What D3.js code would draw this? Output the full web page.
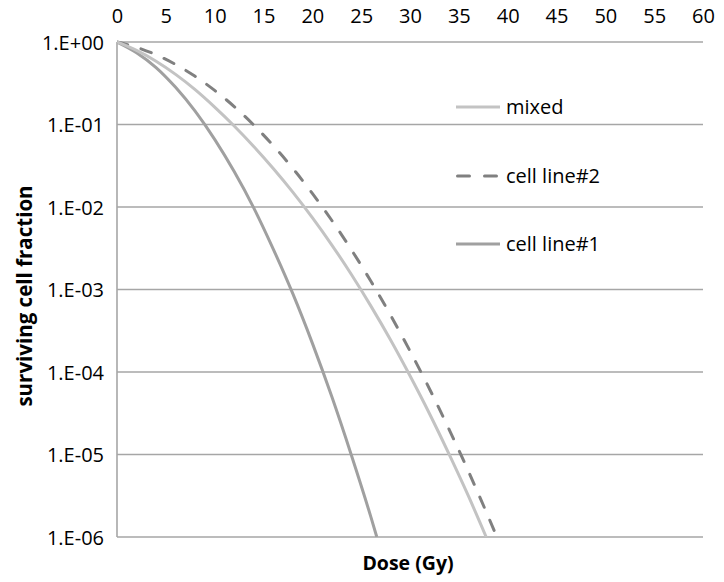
<!DOCTYPE html>
<html>
<head>
<meta charset="utf-8">
<script src="https://cdn.jsdelivr.net/npm/d3@7"></script>
<style>
  html, body { margin: 0; padding: 0; background: #fff; }
  svg { display: block; }
  text { font-family: "Open Sans", "Noto Sans", sans-serif; fill: #000; }
</style>
</head>
<body>
<svg id="chart" width="724" height="582"></svg>
<script>
// ---- data ----
const xTicks = [0, 5, 10, 15, 20, 25, 30, 35, 40, 45, 50, 55, 60];
const yTicks = [1, 1e-1, 1e-2, 1e-3, 1e-4, 1e-5, 1e-6];
const yTickLabels = ["1.E+00", "1.E-01", "1.E-02", "1.E-03", "1.E-04", "1.E-05", "1.E-06"];

const doseCell1 = [0, 2, 4, 6, 8, 10, 12, 14, 16, 18, 20, 22, 24, 26, 26.6];
const cellLine1 = [1, 0.741, 0.490, 0.282, 0.145, 0.0661, 0.0269, 0.00977, 0.00309, 8.9e-4, 2.24e-4, 5.0e-5, 9.8e-6, 1.74e-6, 1.0e-6];

const doseCell2 = [0, 2, 4, 6, 8, 10, 12, 14, 16, 18, 20, 22, 24, 26, 28, 30, 32, 34, 36, 38, 38.9];
const cellLine2 = [1, 0.862, 0.700, 0.534, 0.384, 0.259, 0.165, 0.0986, 0.0555, 0.0294, 0.01464, 0.00686, 0.00303, 0.001257, 4.91e-4, 1.80e-4, 6.23e-5, 2.02e-5, 6.19e-6, 1.78e-6, 1.0e-6];

const doseMixed = [0, 2, 4, 6, 8, 10, 12, 14, 16, 18, 20, 22, 24, 26, 28, 30, 32, 34, 36, 37.8];
const mixed = [1, 0.790, 0.585, 0.405, 0.2645, 0.1626, 0.0960, 0.0542, 0.0293, 0.01515, 0.00743, 0.00346, 0.00152, 6.29e-4, 2.46e-4, 9.0e-5, 3.12e-5, 1.01e-5, 3.10e-6, 1.0e-6];

const seriesNames = ["mixed", "cell line#2", "cell line#1"];

// ---- layout ----
const svg = d3.select("#chart");
const mLeft = 117, mRight = 703, mTop = 42, mBottom = 537;

const x = d3.scaleLinear().domain([0, 60]).range([mLeft, mRight]);
const y = d3.scaleLog().domain([1e-6, 1]).range([mBottom, mTop]);

const gridColor = "#a6a6a6";
const fs = 20;

// horizontal gridlines
svg.append("g")
  .selectAll("line")
  .data(yTicks)
  .join("line")
  .attr("x1", mLeft).attr("x2", mRight)
  .attr("y1", d => y(d)).attr("y2", d => y(d))
  .attr("stroke", gridColor).attr("stroke-width", 1.6);

// left axis line
svg.append("line")
  .attr("x1", mLeft).attr("x2", mLeft)
  .attr("y1", mTop).attr("y2", mBottom)
  .attr("stroke", gridColor).attr("stroke-width", 1.6);

// top x axis (labels only)
const xAxis = d3.axisTop(x).tickValues(xTicks).tickSize(0).tickPadding(0).tickFormat(d3.format("d"));
const gx = svg.append("g").attr("transform", `translate(0,${mTop - 19})`).call(xAxis);
gx.select(".domain").remove();
gx.selectAll("text").attr("font-size", fs).attr("font-family", "Open Sans").attr("fill", "#000").attr("dy", 0);

// left y axis (labels only)
const yAxis = d3.axisLeft(y).tickValues(yTicks).tickSize(0).tickPadding(0)
  .tickFormat((d, i) => yTickLabels[i]);
const gy = svg.append("g").attr("transform", `translate(${mLeft - 13},0)`).call(yAxis);
gy.select(".domain").remove();
gy.selectAll("text").attr("font-size", fs).attr("font-family", "Open Sans").attr("fill", "#000").attr("dy", "0.35em");

// series lines
const line = d3.line()
  .x(d => x(d[0]))
  .y(d => y(d[1]))
  .curve(d3.curveMonotoneX);

const series = [
  { name: "mixed", dose: doseMixed, vals: mixed, color: "#c3c3c3", dash: null },
  { name: "cell line#2", dose: doseCell2, vals: cellLine2, color: "#808080", dash: "11,14" },
  { name: "cell line#1", dose: doseCell1, vals: cellLine1, color: "#a0a0a0", dash: null }
];

svg.append("clipPath").attr("id", "clip")
  .append("rect").attr("x", mLeft).attr("y", mTop - 2).attr("width", mRight - mLeft).attr("height", mBottom - mTop + 2);

const plot = svg.append("g").attr("clip-path", "url(#clip)");
series.slice().reverse().forEach(s => {
  plot.append("path")
    .datum(s.dose.map((d, i) => [d, s.vals[i]]))
    .attr("d", line)
    .attr("fill", "none")
    .attr("stroke", s.color)
    .attr("stroke-width", 3)
    .attr("stroke-linecap", s.dash ? "round" : "butt")
    .attr("stroke-dasharray", s.dash);
});

// legend
const legendY = [107, 176, 244];
const lg = svg.append("g");
series.forEach((s, i) => {
  lg.append("line")
    .attr("x1", 456).attr("x2", 500)
    .attr("y1", legendY[i]).attr("y2", legendY[i])
    .attr("stroke", s.color).attr("stroke-width", 3)
    .attr("stroke-linecap", s.dash ? "round" : "butt")
    .attr("stroke-dasharray", s.dash ? "12,15" : null)
    .attr("stroke-dashoffset", s.dash ? -1.5 : null);
  lg.append("text")
    .attr("x", 506).attr("y", legendY[i])
    .attr("dy", "0.35em")
    .attr("font-size", fs)
    .text(seriesNames[i]);
});

// axis titles
svg.append("text")
  .attr("x", 408).attr("y", 563)
  .attr("dy", "0.35em")
  .attr("text-anchor", "middle")
  .attr("font-size", 19.5)
  .attr("font-weight", "bold")
  .text("Dose (Gy)");

svg.append("text")
  .attr("transform", `translate(25,${296}) rotate(-90)`)
  .attr("dy", "0.35em")
  .attr("text-anchor", "middle")
  .attr("font-size", 20.5)
  .attr("font-weight", "bold")
  .text("surviving cell fraction");
</script>
</body>
</html>
